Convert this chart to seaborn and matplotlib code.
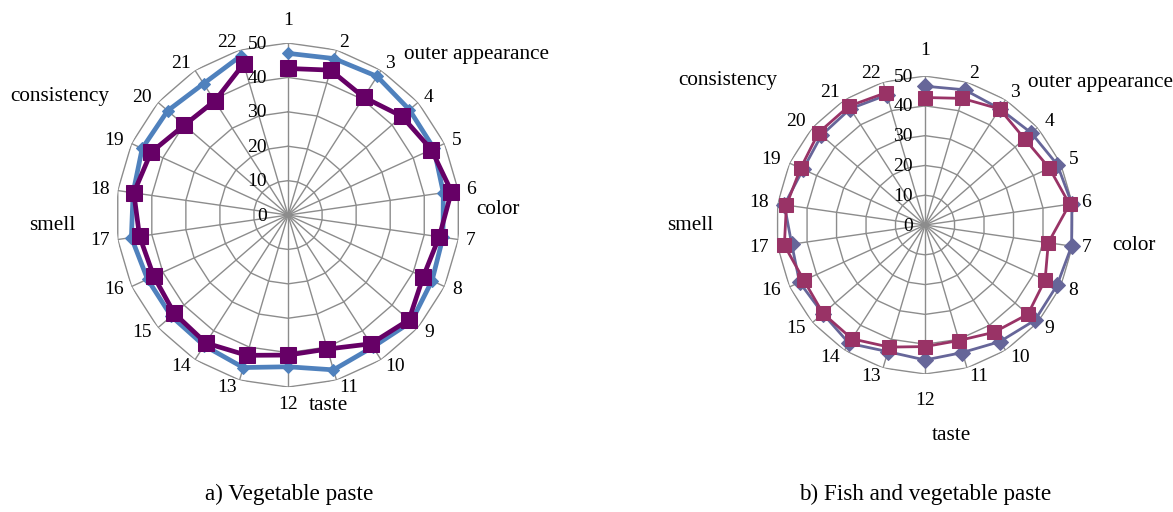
import numpy as np
import pandas as pd
import matplotlib
matplotlib.use('Agg')
import matplotlib.pyplot as plt
import seaborn as sns

sns.set_style('white')
plt.rcParams['font.family'] = ['Liberation Serif', 'DejaVu Serif']
plt.rcParams['text.color'] = 'black'

points = [str(i) for i in range(1, 23)]
r_ticks = [0, 10, 20, 30, 40, 50]

# a) Vegetable paste
veg_blue = [47.0, 47.4, 47.9, 46.7, 46.6, 45.6, 45.5, 46.0, 47.4, 45.6, 46.9,
            44.1, 46.2, 45.1, 44.9, 44.9, 46.0, 45.5, 46.6, 46.3, 45.4, 48.3]
veg_purple = [42.6, 43.9, 40.7, 43.8, 45.8, 48.0, 44.4, 43.2, 46.5, 44.5, 40.6,
              40.7, 42.5, 44.2, 43.7, 42.9, 43.6, 45.3, 43.8, 39.9, 39.4, 45.8]

# b) Fish and vegetable paste
fish_blue = [46.6, 47.3, 46.4, 47.2, 48.8, 49.8, 49.7, 48.7, 48.8, 46.5, 44.6,
             45.3, 44.3, 47.2, 45.4, 46.3, 45.2, 47.7, 45.0, 46.0, 46.4, 45.5]
fish_red = [42.8, 44.3, 46.3, 44.2, 45.9, 49.0, 41.8, 44.3, 45.7, 42.8, 40.4,
            40.8, 42.7, 45.4, 45.3, 44.7, 47.7, 47.0, 45.9, 47.3, 47.4, 46.3]

n = len(points)
theta = np.arange(n) * 2 * np.pi / n
theta_c = np.append(theta, theta[0])

fig = plt.figure(figsize=(11.73, 5.12), dpi=100)


def radar(ax, s1, s2, c1, c2, lw, ms1, ms2, gaps, rlab_dx, groups):
    ax.set_theta_zero_location('N')
    ax.set_theta_direction(-1)
    ax.set_ylim(0, 50)
    ax.spines['polar'].set_visible(False)
    ax.yaxis.grid(False)
    ax.xaxis.grid(True, color='#8c8c8c', lw=1.0)
    ax.set_yticks(r_ticks)
    ax.set_yticklabels([])
    ax.set_xticks(theta)
    ax.set_xticklabels([])
    for r in r_ticks[1:]:
        ax.plot(theta_c, [r] * (n + 1), color='#8c8c8c', lw=1.0, zorder=1)
    for r in r_ticks:
        ax.annotate(str(r), xy=(0, r), xytext=(rlab_dx, -1), textcoords='offset pixels',
                    ha='right', va='center', fontsize=14, color='black', zorder=5)
    # point labels around the outer ring (Excel-like placement)
    g_side, g_top, g_bot = gaps
    for t, lab in zip(theta, points):
        s, c = np.sin(t), np.cos(t)
        ha = 'left' if s > 0.1 else ('right' if s < -0.1 else 'center')
        if abs(s) < 0.1:
            va = 'bottom' if c > 0 else 'top'
            g = g_top if c > 0 else g_bot
        else:
            va = 'center'
            g = g_side
        ax.annotate(lab, xy=(t, 50), xytext=(g * s, g * c),
                    textcoords='offset pixels', ha=ha, va=va, color='black',
                    fontsize=14, annotation_clip=False)
    df1 = pd.DataFrame({'t': theta_c, 'v': s1 + s1[:1]})
    df2 = pd.DataFrame({'t': theta_c, 'v': s2 + s2[:1]})
    sns.lineplot(data=df1, x='t', y='v', sort=False, ax=ax, color=c1, lw=lw,
                 marker='D', markersize=ms1, markeredgecolor=c1, zorder=3,
                 clip_on=False)
    sns.lineplot(data=df2, x='t', y='v', sort=False, ax=ax, color=c2, lw=lw,
                 marker='s', markersize=ms2, markeredgecolor=c2, zorder=4,
                 clip_on=False)
    ax.set_xlabel('')
    ax.set_ylabel('')
    for txt, x, y in groups:
        fig.text(x / 1173, 1 - y / 512, txt, ha='center', va='center',
                 fontsize=15.3, color='black')


ax1 = fig.add_axes([0.0989, 0.244, 0.2933, 0.672], projection='polar')
radar(ax1, veg_blue, veg_purple, '#4f81bd', '#660066', 3.4, 6, 11, (8, 14, 9), -21,
      [('outer appearance', 476, 55), ('color', 498, 209), ('taste', 328, 405),
       ('smell', 52, 226), ('consistency', 60, 97)])

ax2 = fig.add_axes([0.6616, 0.2695, 0.254, 0.582], projection='polar')
radar(ax2, fish_blue, fish_red, '#666699', '#993366', 2.0, 8, 10, (9, 17, 18), -12,
      [('consistency', 728, 80), ('outer appearance', 1101, 82), ('color', 1134, 246),
       ('smell', 690, 226), ('taste', 951, 435)])

fig.text(289 / 1173, 1 - 494 / 512, 'a) Vegetable paste', ha='center', va='center',
         fontsize=16.7, color='black')
fig.text(925 / 1173, 1 - 494 / 512, 'b) Fish and vegetable paste', ha='center', va='center',
         fontsize=16.7, color='black')

fig.savefig('out.png', dpi=100)
